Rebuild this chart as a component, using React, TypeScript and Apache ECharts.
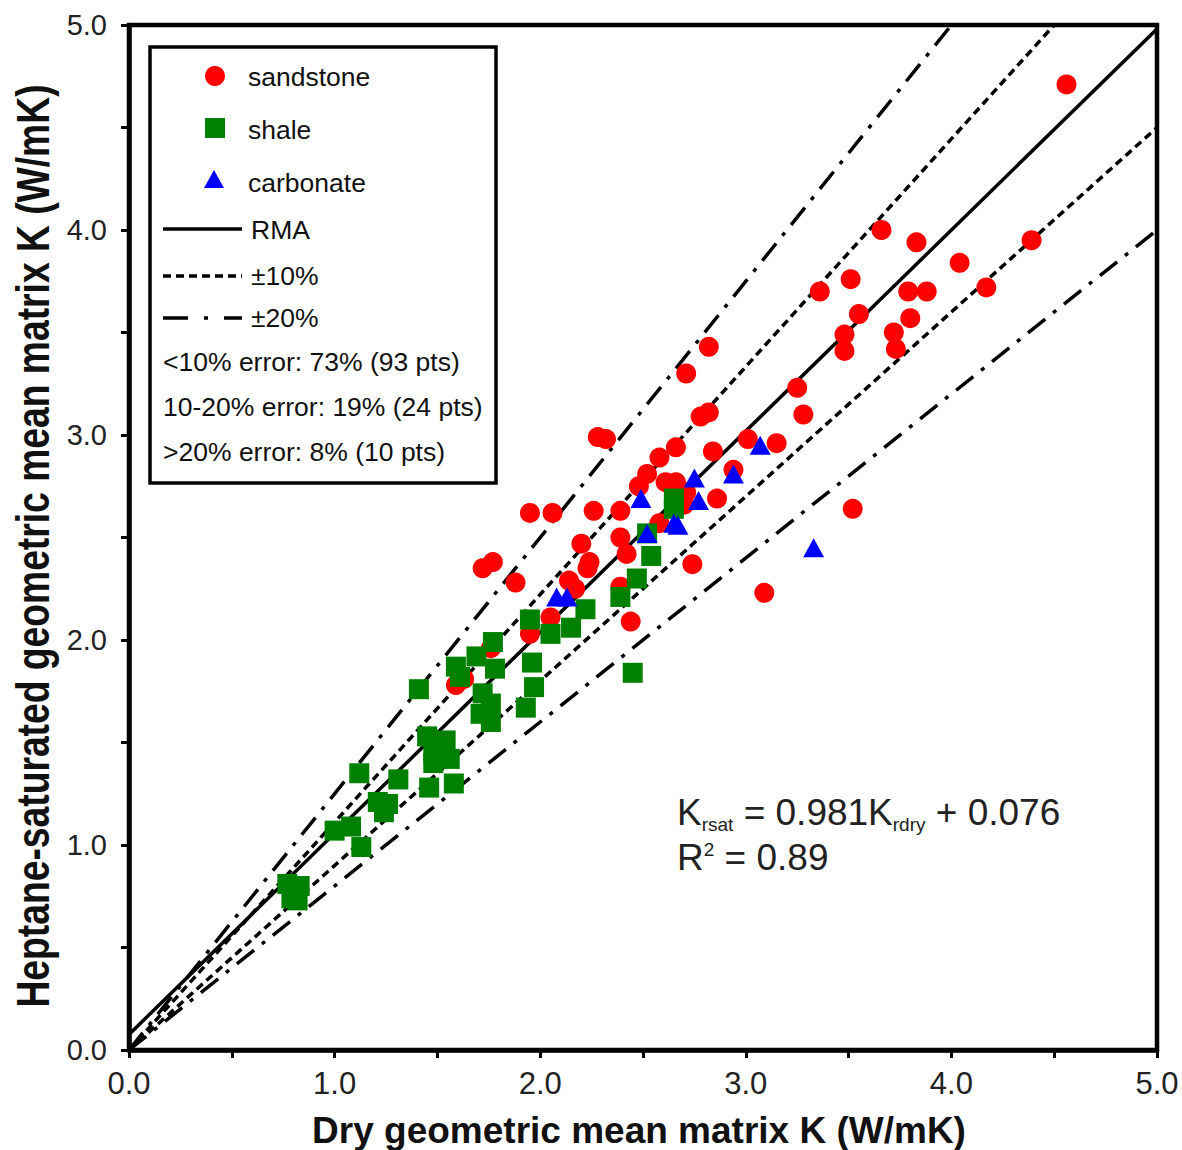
import React, { useEffect, useRef } from "react";
import * as echarts from "echarts";

// ---- data (W/mK) ----
const sandstone: number[][] = [
  [4.56, 4.71], [3.66, 4.0], [3.83, 3.94], [4.39, 3.95], [4.04, 3.84], [3.36, 3.7], [3.51, 3.76],
  [3.79, 3.7], [3.88, 3.7], [4.17, 3.72], [3.55, 3.59], [3.8, 3.57], [3.48, 3.49], [3.48, 3.41],
  [3.72, 3.5], [3.73, 3.42], [2.82, 3.43], [2.71, 3.3], [3.25, 3.23], [3.28, 3.1], [2.78, 3.09],
  [2.82, 3.11], [2.28, 2.99], [2.32, 2.98], [3.01, 2.98], [3.15, 2.96], [2.84, 2.92], [2.66, 2.94],
  [2.58, 2.89], [2.52, 2.81], [2.48, 2.75], [2.61, 2.77], [2.66, 2.77], [2.71, 2.72], [2.86, 2.69],
  [2.94, 2.83], [2.7, 2.66], [1.95, 2.62], [2.06, 2.62], [2.26, 2.63], [2.39, 2.63], [3.52, 2.64],
  [1.77, 2.38], [1.72, 2.35], [1.88, 2.28], [2.2, 2.47], [2.39, 2.5], [2.24, 2.38], [2.23, 2.35],
  [2.42, 2.42], [2.14, 2.29], [2.17, 2.25], [2.74, 2.37], [2.39, 2.26], [3.09, 2.23], [2.44, 2.09],
  [2.05, 2.11], [1.95, 2.03], [1.76, 1.96], [1.59, 1.78], [1.63, 1.81], [2.58, 2.57],
];
const shale: number[][] = [
  [2.65, 2.69], [2.65, 2.64], [2.52, 2.52], [2.54, 2.41], [2.47, 2.3], [2.39, 2.21], [2.22, 2.15],
  [2.15, 2.06], [2.05, 2.03], [1.95, 2.1], [1.77, 1.99], [1.69, 1.92], [1.78, 1.86], [1.59, 1.87],
  [1.61, 1.82], [1.41, 1.76], [1.96, 1.89], [1.97, 1.77], [1.93, 1.67], [2.45, 1.84], [1.72, 1.74],
  [1.76, 1.69], [1.71, 1.64], [1.76, 1.6], [1.45, 1.53], [1.54, 1.51], [1.48, 1.45], [1.56, 1.42],
  [1.48, 1.4], [1.46, 1.28], [1.58, 1.3], [1.12, 1.35], [1.31, 1.32], [1.21, 1.21], [1.26, 1.2],
  [1.24, 1.16], [1.0, 1.07], [1.08, 1.09], [1.13, 0.99], [0.77, 0.81], [0.83, 0.8], [0.79, 0.74],
  [0.82, 0.73],
];
const carbonate: number[][] = [
  [3.07, 2.95], [2.75, 2.79], [2.94, 2.81], [2.49, 2.69], [2.77, 2.68], [2.65, 2.57], [2.67, 2.56],
  [2.52, 2.52], [3.33, 2.45], [2.08, 2.21], [2.13, 2.21],
];
const rmaLine: number[][] = [[0, 0.076], [5, 4.981]];
const plus10: number[][] = [[0, 0], [4.5, 5]];
const minus10: number[][] = [[0, 0], [5, 4.5]];
const plus20: number[][] = [[0, 0], [4, 5]];
const minus20: number[][] = [[0, 0], [5, 4]];

const legendItems = ["sandstone", "shale", "carbonate", "RMA", "±10%", "±20%"];
const statLines = [
  "<10% error: 73% (93 pts)",
  "10-20% error: 19% (24 pts)",
  ">20% error: 8% (10 pts)",
];
const xTitle = "Dry geometric mean matrix K (W/mK)";
const yTitle = "Heptane-saturated geometric mean matrix K (W/mK)";

const FF = '"Liberation Sans", Arial, sans-serif';

function measure(text: string, size: number): number {
  const c = document.createElement("canvas");
  const ctx = c.getContext("2d")!;
  ctx.font = `${size}px ${FF}`;
  return ctx.measureText(text).width;
}

export default function App() {
  const ref = useRef<HTMLDivElement>(null);
  useEffect(() => {
    if (!ref.current) return;
    const chart = echarts.init(ref.current, null, { renderer: "svg" });

    const lblFmt = (v: number) => (Math.abs(v - Math.round(v)) < 1e-6 ? v.toFixed(1) : "");

    // equation pieces
    const M = 37, S = 19;
    const eqParts: { t: string; size: number; base: number }[] = [
      { t: "K", size: M, base: 825 },
      { t: "rsat", size: S, base: 831 },
      { t: " = 0.981K", size: M, base: 825 },
      { t: "rdry", size: S, base: 831 },
      { t: " + 0.076", size: M, base: 825 },
    ];
    const r2Parts: { t: string; size: number; base: number }[] = [
      { t: "R", size: M, base: 870 },
      { t: "2", size: S, base: 856 },
      { t: " = 0.89", size: M, base: 870 },
    ];
    const eqEls: any[] = [];
    const place = (parts: { t: string; size: number; base: number }[]) => {
      let x = 677;
      for (const p of parts) {
        eqEls.push({
          type: "text",
          x,
          y: p.base - 0.35 * p.size,
          style: {
            text: p.t,
            fontSize: p.size,
            fontFamily: FF,
            fill: "#222",
            align: "left",
            verticalAlign: "middle",
          },
        });
        x += measure(p.t, p.size);
      }
    };
    place(eqParts);
    place(r2Parts);

    const rowsY = [77, 130, 183, 230, 276, 318];
    const statY = [362, 407, 452];

    const graphic: any[] = [
      {
        type: "rect",
        shape: { x: 150, y: 47, width: 346, height: 436 },
        style: { fill: "#fff", stroke: "#000", lineWidth: 3.5 },
        z: 10,
      },
      { type: "circle", shape: { cx: 215, cy: 76, r: 10 }, style: { fill: "#ff0000" }, z: 11 },
      { type: "rect", shape: { x: 205, y: 118, width: 20, height: 20 }, style: { fill: "#008000" }, z: 11 },
      {
        type: "polygon",
        shape: { points: [[214, 170], [204, 188], [224, 188]] },
        style: { fill: "#0000ff" },
        z: 11,
      },
      {
        type: "line",
        shape: { x1: 163, y1: 229, x2: 242, y2: 229 },
        style: { stroke: "#000", lineWidth: 3.5 },
        z: 11,
      },
      {
        type: "line",
        shape: { x1: 163, y1: 276, x2: 242, y2: 276 },
        style: { stroke: "#000", lineWidth: 3.5, lineDash: [8, 5] },
        z: 11,
      },
      {
        type: "line",
        shape: { x1: 163, y1: 318, x2: 242, y2: 318 },
        style: { stroke: "#000", lineWidth: 3.5, lineDash: [25, 16, 4, 16] },
        z: 11,
      },
      ...legendItems.map((t, i) => ({
        type: "text",
        x: i < 3 ? 248 : 251,
        y: rowsY[i],
        z: 11,
        style: { text: t, fontSize: 26.5, fontFamily: FF, fill: "#111", verticalAlign: "middle", align: "left" },
      })),
      ...statLines.map((t, i) => ({
        type: "text",
        x: 163,
        y: statY[i],
        z: 11,
        style: { text: t, fontSize: 26.5, fontFamily: FF, fill: "#111", verticalAlign: "middle", align: "left" },
      })),
      {
        type: "text",
        x: 639,
        y: 1130,
        style: {
          text: xTitle,
          fontSize: 37,
          fontWeight: "bold",
          fontFamily: FF,
          fill: "#111",
          align: "center",
          verticalAlign: "middle",
        },
      },
      {
        type: "text",
        x: 33,
        y: 546,
        rotation: Math.PI / 2,
        scaleX: 0.81,
        style: {
          text: yTitle,
          fontSize: 46,
          fontWeight: "bold",
          fontFamily: FF,
          fill: "#111",
          align: "center",
          verticalAlign: "middle",
        },
      },
      ...eqEls,
    ];

    const refLine = (data: number[][], type: any) => ({
      type: "line",
      data,
      symbol: "none",
      showSymbol: false,
      silent: true,
      clip: true,
      lineStyle: { color: "#000", width: 3.5, type },
      z: 1,
    });

    chart.setOption({
      animation: false,
      grid: {
        left: 129,
        right: 25,
        top: 25,
        bottom: 100,
        show: true,
        borderColor: "#000",
        borderWidth: 4.5,
        outerBoundsMode: "none",
      },
      xAxis: {
        type: "value",
        min: 0,
        max: 5,
        interval: 0.5,
        axisLine: { show: true, lineStyle: { color: "#000", width: 4.5 } },
        axisTick: { show: true, inside: false, length: 8, lineStyle: { color: "#000", width: 3 } },
        axisLabel: { margin: 18, fontSize: 31, color: "#222", fontFamily: FF, formatter: lblFmt },
        splitLine: { show: false },
      },
      yAxis: {
        type: "value",
        min: 0,
        max: 5,
        interval: 0.5,
        axisLine: { show: true, lineStyle: { color: "#000", width: 4.5 } },
        axisTick: { show: true, inside: false, length: 8, lineStyle: { color: "#000", width: 3 } },
        axisLabel: { margin: 22, fontSize: 29, color: "#222", fontFamily: FF, formatter: lblFmt },
        splitLine: { show: false },
      },
      series: [
        refLine(plus20, [22, 10, 4, 10]),
        refLine(minus20, [22, 10, 4, 10]),
        refLine(plus10, [8, 5]),
        refLine(minus10, [8, 5]),
        refLine(rmaLine, "solid"),
        {
          name: "sandstone",
          type: "scatter",
          data: sandstone,
          symbol: "circle",
          symbolSize: 20,
          itemStyle: { color: "#ff0000", opacity: 1 },
          z: 3,
        },
        {
          name: "shale",
          type: "scatter",
          data: shale,
          symbol: "rect",
          symbolSize: 20,
          itemStyle: { color: "#008000", opacity: 1 },
          z: 4,
        },
        {
          name: "carbonate",
          type: "scatter",
          data: carbonate,
          symbol: "triangle",
          symbolSize: [21, 19],
          itemStyle: { color: "#0000ff", opacity: 1 },
          z: 5,
        },
      ],
      graphic,
    });
    return () => chart.dispose();
  }, []);
  return (
    <div
      ref={ref}
      style={{ position: "absolute", left: 0, top: 0, width: 1182, height: 1150, background: "#fff" }}
    />
  );
}
